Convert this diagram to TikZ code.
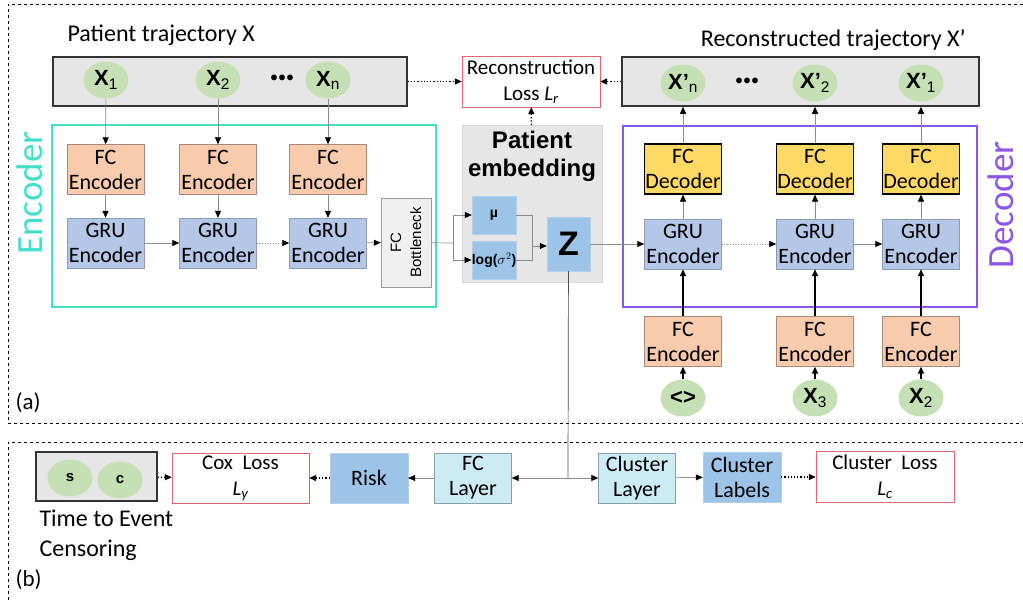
\documentclass[tikz,border=0pt]{standalone}
\usepackage{fontspec}
\setmainfont{Carlito}
\newfontfamily\arialfont{Liberation Sans}
\usetikzlibrary{shapes,arrows.meta,positioning}
\definecolor{salmon}{HTML}{F8CBAD}
\definecolor{salmonline}{HTML}{A88878}
\definecolor{grublue}{HTML}{B4C7E7}
\definecolor{grublueline}{HTML}{8C9CB8}
\definecolor{decyellow}{HTML}{FFD966}
\definecolor{embblue}{HTML}{9DC3E6}
\definecolor{layercyan}{HTML}{CDEBF2}
\definecolor{layerline}{HTML}{8A9EA6}
\definecolor{enccol}{HTML}{45DEC8}
\definecolor{deccol}{HTML}{8C55E4}
\definecolor{lossred}{HTML}{E06A6A}
\definecolor{featgreen}{HTML}{C5E0B4}
\definecolor{bargray}{HTML}{E6E6E6}
\tikzstyle{fcenc} = [rectangle, fill=salmon, draw=salmonline, minimum width=77pt, minimum height=50pt, inner sep=0pt, align=center, font=\fontsize{22}{25}\selectfont]
\tikzstyle{gru} = [fcenc, fill=grublue, draw=grublueline]
\tikzstyle{fcdec} = [fcenc, fill=decyellow, draw=black, line width=1.2pt]
\tikzstyle{emb} = [rectangle, fill=embblue, draw=embblue!80!white, inner sep=0pt, font=\arialfont\bfseries\fontsize{14}{16}\selectfont]
\tikzstyle{layer} = [fcenc, fill=layercyan, draw=layerline]
\tikzstyle{lossbox} = [rectangle, draw=lossred, fill=white, minimum width=138pt, minimum height=51pt, inner sep=0pt, align=center, font=\fontsize{21}{26}\selectfont]
\tikzstyle{feat} = [ellipse, fill=featgreen, minimum width=45pt, minimum height=37pt, inner sep=0pt, font=\arialfont\bfseries\fontsize{22}{24}\selectfont]
\tikzstyle{seqbar} = [rectangle, fill=bargray, draw=black!80, line width=1.5pt, inner sep=0pt]
\tikzstyle{link} = [draw=black!45, line width=0.7pt, -{Triangle[black,length=7pt,width=6pt]}]
\tikzstyle{dotlink} = [draw=black, line width=1.2pt, dotted, -{Triangle[black,length=7pt,width=6pt]}]
\tikzstyle{boldlink} = [draw=black, line width=1.6pt, -{Triangle[black,length=7pt,width=6pt]}]
\tikzstyle{panel} = [draw=black, line width=0.8pt, dashed]
\tikzstyle{title} = [font=\fontsize{24}{26}\selectfont]
\tikzstyle{dotsrow} = [font=\arialfont\bfseries\fontsize{20}{22}\selectfont]
\begin{document}
\begin{tikzpicture}[x=1pt, y=-1pt]
\useasboundingbox (0,0) rectangle (1023,600);
\draw[panel] (1023,4) -- (8,4) -- (8,423) -- (1023,423);
\draw[panel] (1023,442) -- (8,442) -- (8,600);
\node[anchor=west, font=\fontsize{23}{24}\selectfont] (parta) at (12,403) {(a)};
\node[anchor=west, font=\fontsize{23}{24}\selectfont] (partb) at (12,580) {(b)};

\node[title, anchor=west] (intitle) at (64,35) {Patient trajectory X};
\node[seqbar, minimum width=354pt, minimum height=49pt] (inbar) at (230,81.5) {};
\node[feat] (x1) at (106,80) {X\textsubscript{\mdseries 1}};
\node[feat] (x2) at (218,80) {X\textsubscript{\mdseries 2}};
\node[dotsrow] (indots) at (282,80) {•\hspace{1pt}•\hspace{1pt}•};
\node[feat] (xn) at (328,80) {X\textsubscript{\mdseries n}};

\node[lossbox] (recloss) at (531,81.5) {Reconstruction\\Loss \textit{L\textsubscript{r}}};

\node[title, anchor=east] (outtitle) at (969,40) {Reconstructed trajectory X’};
\node[seqbar, minimum width=357pt, minimum height=49pt] (outbar) at (800.5,81.5) {};
\node[feat] (xo3) at (683,83) {X’\textsubscript{\mdseries n}};
\node[dotsrow] (outdots) at (747,83) {•\hspace{1pt}•\hspace{1pt}•};
\node[feat] (xo2) at (815,83) {X’\textsubscript{\mdseries 2}};
\node[feat] (xo1) at (921,83) {X’\textsubscript{\mdseries 1}};

\node[draw=enccol, line width=2.8pt, minimum width=384pt, minimum height=182pt] (encbox) at (244,216) {};
\node[rotate=90, text=enccol, font=\fontsize{37}{40}\selectfont] (enclabel) at (30,193) {Encoder};
\node[fcenc] (fe1) at (105.5,169.5) {FC\\Encoder};
\node[fcenc] (fe2) at (218,169.5) {FC\\Encoder};
\node[fcenc] (fe3) at (328,169.5) {FC\\Encoder};
\node[gru] (ge1) at (105.5,243) {GRU\\Encoder};
\node[gru] (ge2) at (218,243) {GRU\\Encoder};
\node[gru] (ge3) at (328,243) {GRU\\Encoder};
\node[rectangle, fill=black!6, draw=black!40, minimum width=50pt, minimum height=89pt, inner sep=0pt] (bneck) at (406,242.5) {};
\node[rotate=90, align=center, font=\arialfont\fontsize{15}{20}\selectfont] (bnecktext) at (bneck) {FC\\Bottleneck};

\node[rectangle, fill=bargray, draw=black!15, minimum width=140pt, minimum height=157pt] (embpanel) at (532,203.5) {};
\node[align=center, font=\arialfont\bfseries\fontsize{24}{28}\selectfont] (embtitle) at (532,156) {Patient\\embedding};
\node[emb, minimum width=44pt, minimum height=38pt] (mu) at (494,215) {µ};
\node[emb, minimum width=44pt, minimum height=38pt] (logv) at (494,260) {log($\sigma^2$)};
\node[emb, minimum width=43pt, minimum height=54pt, font=\arialfont\bfseries\fontsize{34}{36}\selectfont] (z) at (568.5,244) {Z};
\coordinate (split) at (453,243);
\coordinate (join) at (532,246);

\node[draw=deccol, line width=2.8pt, minimum width=354pt, minimum height=181pt] (decbox) at (800,216.5) {};
\node[rotate=90, text=deccol, font=\fontsize{37}{40}\selectfont] (declabel) at (1001,205) {Decoder};
\node[fcdec] (fd3) at (683,169) {FC\\Decoder};
\node[fcdec] (fd2) at (815,169) {FC\\Decoder};
\node[fcdec] (fd1) at (921,169) {FC\\Decoder};
\node[gru] (gd3) at (683,244) {GRU\\Encoder};
\node[gru] (gd2) at (815,244) {GRU\\Encoder};
\node[gru] (gd1) at (921,244) {GRU\\Encoder};
\node[fcenc] (fl3) at (683,341.5) {FC\\Encoder};
\node[fcenc] (fl2) at (815,341.5) {FC\\Encoder};
\node[fcenc] (fl1) at (921,341.5) {FC\\Encoder};
\node[feat] (start) at (683,398) {<>};
\node[feat] (x3in) at (815,398) {X\textsubscript{\mdseries 3}};
\node[feat] (x2in) at (921,398) {X\textsubscript{\mdseries 2}};

\node[seqbar, minimum width=121pt, minimum height=49pt] (ttebar) at (96.5,476.5) {};
\node[feat, font=\arialfont\bfseries\fontsize{15}{16}\selectfont] (sfeat) at (70,478) {s};
\node[feat, font=\arialfont\bfseries\fontsize{15}{16}\selectfont] (cfeat) at (120,480) {c};
\node[anchor=north west, align=left, font=\fontsize{24}{30}\selectfont] (ttetext) at (36,506) {Time to Event\\Censoring};
\node[lossbox, minimum width=137pt, minimum height=50pt] (coxloss) at (240.5,478) {Cox~ Loss\\\textit{L\textsubscript{y}}};
\node[emb, minimum width=78pt, minimum height=50pt, font=\fontsize{22}{25}\selectfont\mdseries] (risk) at (369,478) {Risk};
\node[layer] (fclayer) at (473,478) {FC\\Layer};
\node[layer] (cllayer) at (637,478) {Cluster\\Layer};
\node[emb, minimum width=78pt, minimum height=50pt, align=center, font=\fontsize{22}{25}\selectfont\mdseries] (cllabels) at (742,477) {Cluster\\Labels};
\node[lossbox] (clloss) at (885,477) {Cluster~ Loss\\\textit{L\textsubscript{c}}};
\coordinate (zfork) at (568,478);

\draw[dotlink] (inbar) -- (recloss);
\draw[dotlink] (outbar) -- (recloss);
\draw[dotlink] (embpanel) -- (recloss);
\foreach \i in {1,2,3} {
  \draw[link] (fe\i) -- (ge\i);
  \draw[link] (gd\i) -- (fd\i);
  \draw[link] (fd\i) -- (fd\i |- outbar.south);
}
\draw[link] (x1) -- (fe1);
\draw[link] (x2) -- (fe2);
\draw[link] (xn) -- (fe3);
\draw[link] (ge1) -- (ge2);
\draw[link, dotted] (ge2) -- (ge3);
\draw[link] (ge3) -- (bneck);
\draw[draw=black!45, line width=0.7pt] (bneck) -- (split);
\draw[link] (split) |- (mu);
\draw[link] (split) |- (logv);
\draw[draw=black!45, line width=0.7pt] (mu.east) -| (join);
\draw[draw=black!45, line width=0.7pt] (logv.east) -| (join);
\draw[link] (join) -- (z.west |- join);
\draw[link] (z) -- (gd3);
\draw[link, dotted] (gd3) -- (gd2);
\draw[link] (gd2) -- (gd1);
\draw[boldlink] (fl3) -- (gd3);
\draw[boldlink] (fl2) -- (gd2);
\draw[boldlink] (fl1) -- (gd1);
\draw[boldlink] (start) -- (fl3);
\draw[boldlink] (x3in) -- (fl2);
\draw[boldlink] (x2in) -- (fl1);

\draw[draw=black!70, line width=0.7pt] (z) -- (zfork);
\draw[link] (zfork) -- (fclayer);
\draw[link] (zfork) -- (cllayer);
\draw[link] (fclayer) -- (risk);
\draw[dotlink] (risk) -- (coxloss);
\draw[dotlink] (ttebar) -- (coxloss);
\draw[link] (cllayer) -- (cllabels);
\draw[dotlink] (cllabels) -- (clloss);
\end{tikzpicture}
\end{document}
